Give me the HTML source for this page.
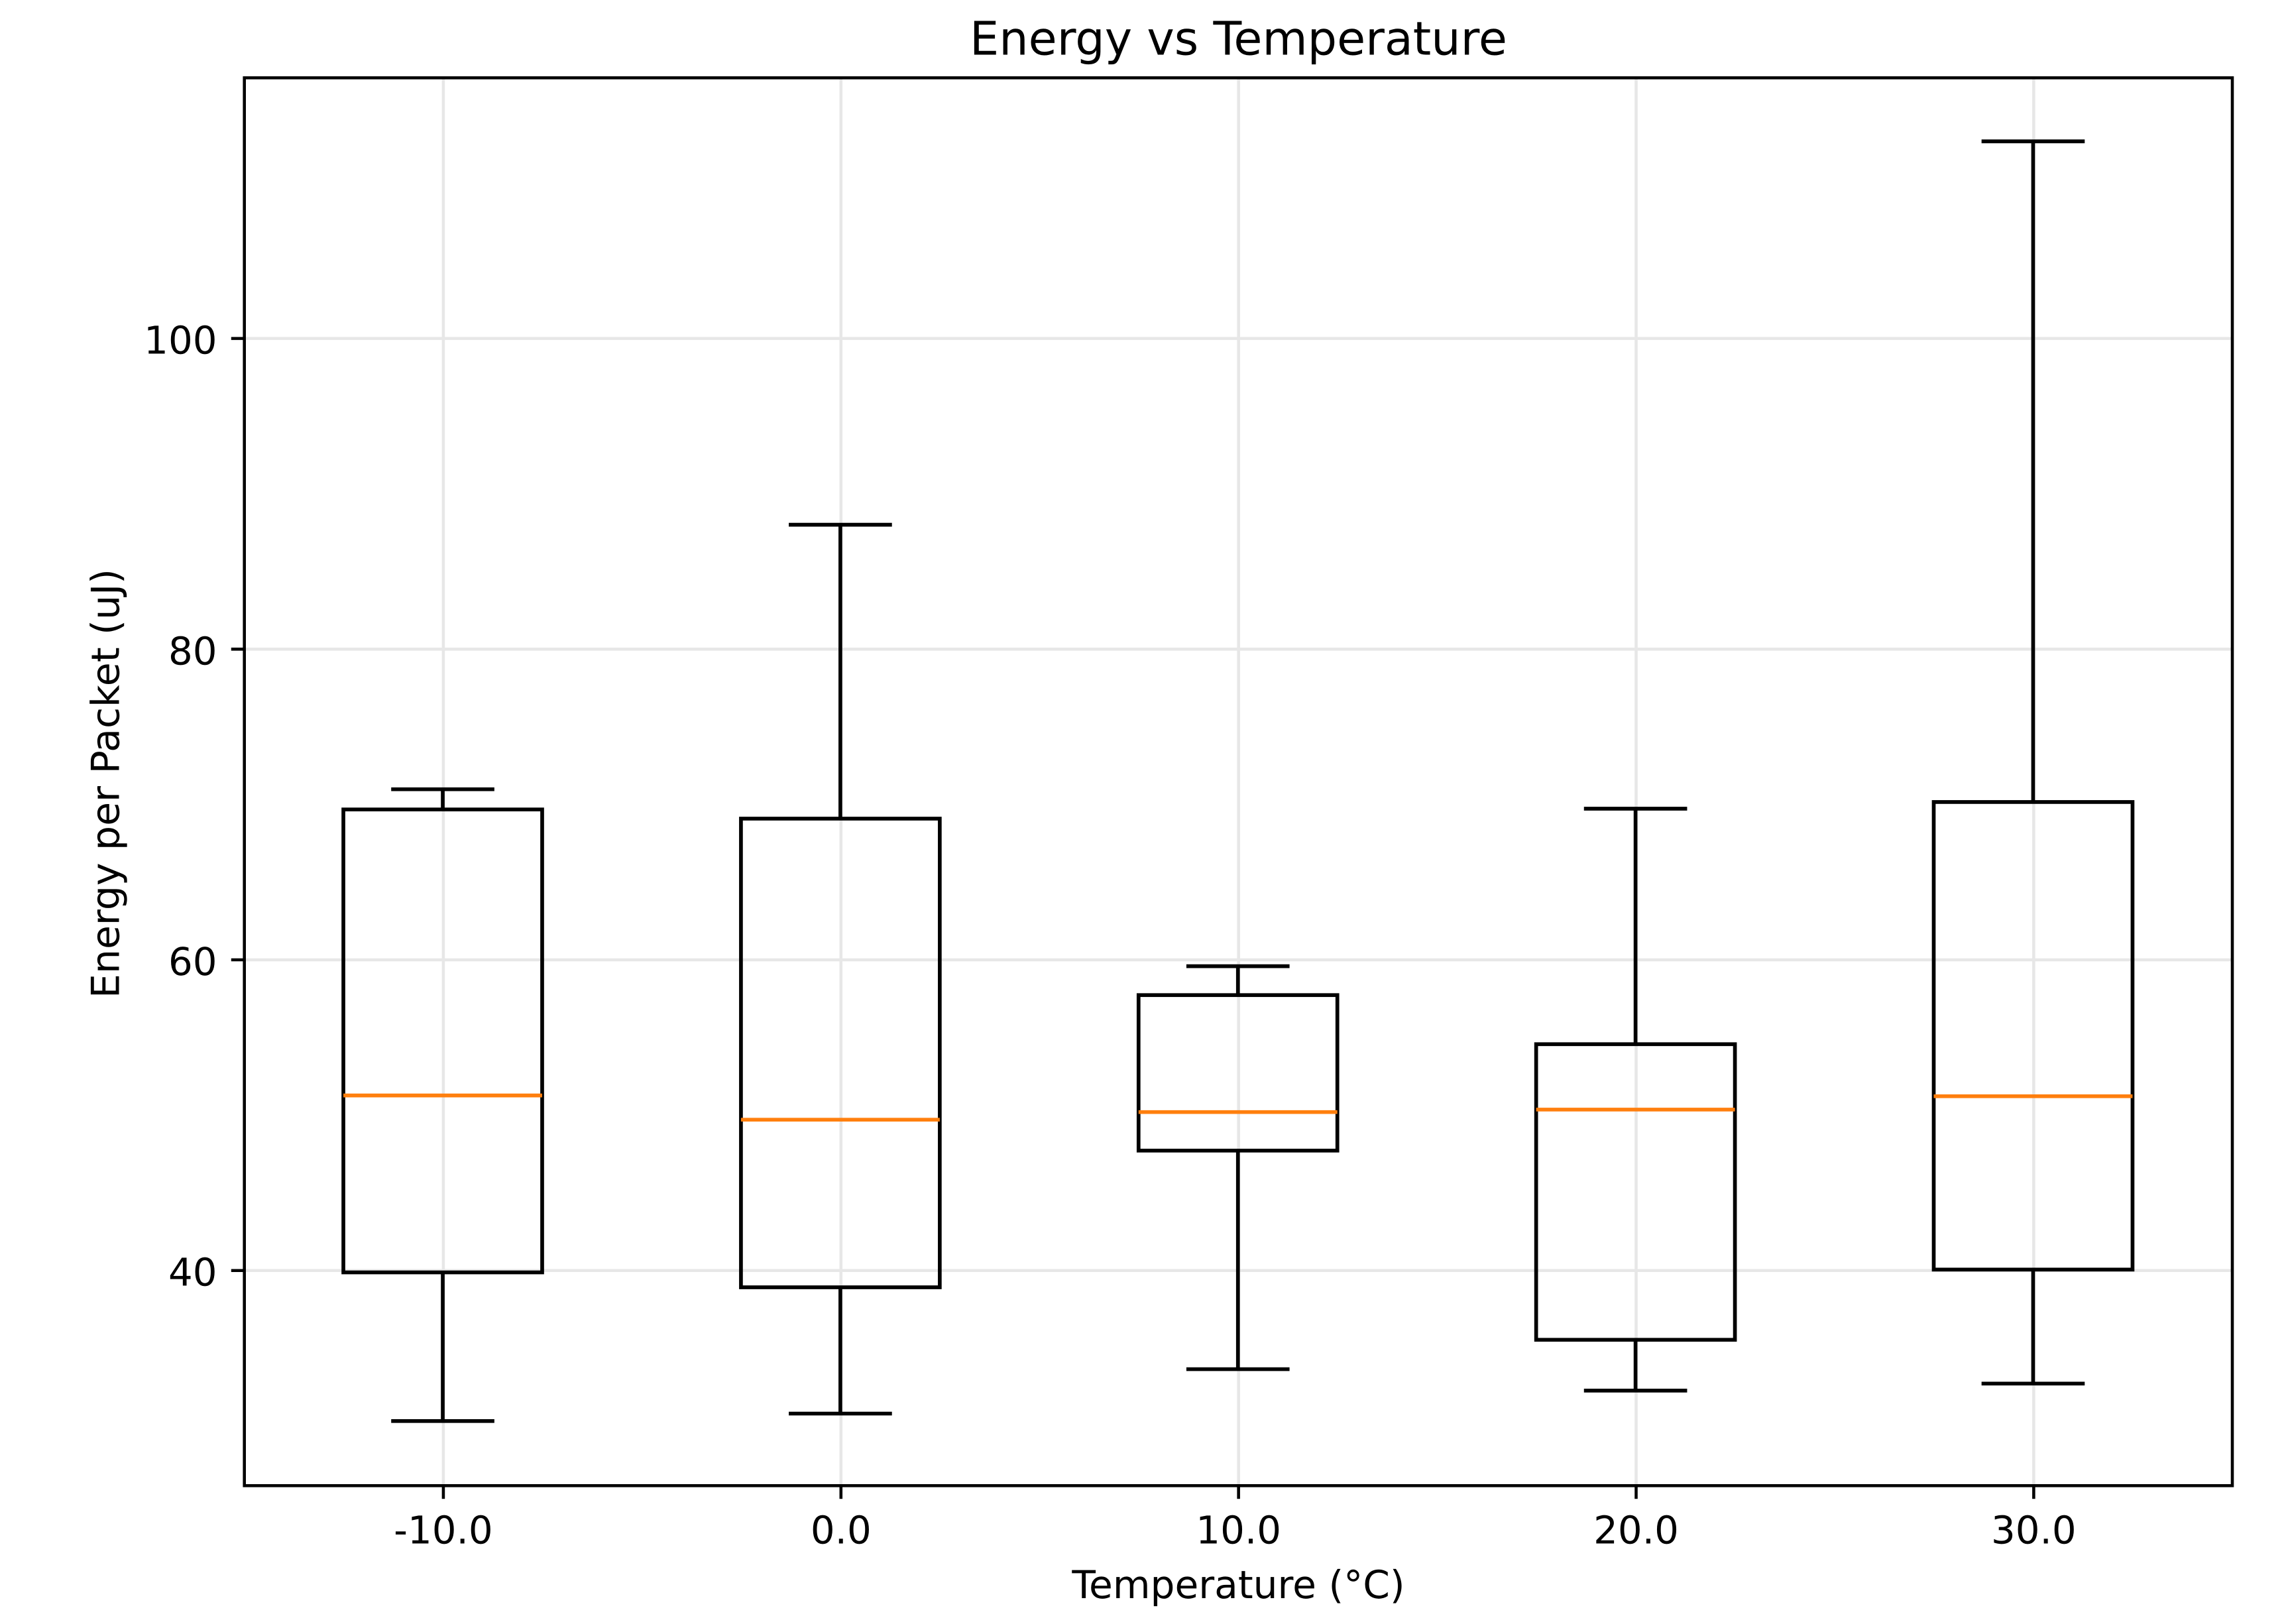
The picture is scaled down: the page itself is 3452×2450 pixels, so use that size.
<!DOCTYPE html>
<html lang="en">
<head>
<meta charset="utf-8">
<title>Energy vs Temperature</title>
<style>
  html, body { margin: 0; padding: 0; background: #fff; width: 3452px; height: 2450px; overflow: hidden; }
  svg { display: block; }
  text { font-family: "DejaVu Sans", "Liberation Sans", sans-serif; fill: #000; text-rendering: geometricPrecision; }
</style>
</head>
<body>
<svg id="chart" xmlns="http://www.w3.org/2000/svg" width="3452" height="2450" viewBox="0 0 3452 2450">
  <rect x="0" y="0" width="3452" height="2450" fill="#ffffff"/>
  <g id="grid"></g>
  <g id="boxes"></g>
  <rect x="368.7" y="117.4" width="2999.3" height="2123.9" fill="none" stroke="#000" stroke-width="4.56"/>
  <g id="x-axis"></g>
  <g id="y-axis"></g>
  <text x="1868.5" y="82.5" font-size="70" text-anchor="middle">Energy vs Temperature</text>
  <text x="1868.5" y="2411" font-size="58.2" text-anchor="middle">Temperature (°C)</text>
  <text x="179.5" y="1182" font-size="58.4" text-anchor="middle" transform="rotate(-90 179.5 1182)">Energy per Packet (uJ)</text>
</svg>
<script>
const categories = ["-10.0", "0.0", "10.0", "20.0", "30.0"];
const whiskerLow = [30.31, 30.79, 33.65, 32.27, 32.72];
const quartile1 = [39.88, 38.92, 47.72, 35.54, 40.06];
const medians = [51.27, 49.71, 50.20, 50.36, 51.22];
const quartile3 = [69.68, 69.09, 57.73, 54.57, 70.16];
const whiskerHigh = [70.98, 88.01, 59.59, 69.73, 112.69];
const yTickValues = [40, 60, 80, 100];

const SVG_NS = "http://www.w3.org/2000/svg";
const PLOT_LEFT = 368.7;
const PLOT_RIGHT = 3368;
const PLOT_TOP = 117.4;
const PLOT_BOTTOM = 2241.3;
const Y_MIN = 26.15;
const Y_MAX = 116.78;
const PT = 5.69;
const TICK_LEN = 3.5 * PT;
const AXIS_LW = 0.8 * PT;
const BOX_LW = 1.0 * PT;
const GRID_COLOR = "#e7e7e7";
const GRID_NUDGE = 0.3;
const MARK_NUDGE = -0.6;
const TICK_FONT = "57.8";

function xScale(index) {
  const slots = categories.length;
  return PLOT_LEFT + (index + 0.5) * (PLOT_RIGHT - PLOT_LEFT) / slots;
}
function yScale(value) {
  return PLOT_BOTTOM - (value - Y_MIN) * (PLOT_BOTTOM - PLOT_TOP) / (Y_MAX - Y_MIN);
}
function slotWidth() {
  return (PLOT_RIGHT - PLOT_LEFT) / categories.length;
}
function drawLine(parent, x1, y1, x2, y2, color, width, cap) {
  const el = document.createElementNS(SVG_NS, "line");
  el.setAttribute("x1", x1);
  el.setAttribute("y1", y1);
  el.setAttribute("x2", x2);
  el.setAttribute("y2", y2);
  el.setAttribute("stroke", color);
  el.setAttribute("stroke-width", width);
  el.setAttribute("stroke-linecap", cap || "butt");
  parent.appendChild(el);
  return el;
}
function drawText(parent, x, y, content, anchor) {
  const el = document.createElementNS(SVG_NS, "text");
  el.setAttribute("x", x);
  el.setAttribute("y", y);
  el.setAttribute("font-size", TICK_FONT);
  el.setAttribute("text-anchor", anchor);
  el.textContent = content;
  parent.appendChild(el);
  return el;
}

const gridLayer = document.getElementById("grid");
const boxLayer = document.getElementById("boxes");
const xAxisLayer = document.getElementById("x-axis");
const yAxisLayer = document.getElementById("y-axis");

categories.forEach(function (label, i) {
  const x = xScale(i) + GRID_NUDGE;

  const grid = drawLine(gridLayer, x, PLOT_TOP, x, PLOT_BOTTOM, GRID_COLOR, AXIS_LW);
  
  

  const tick = drawLine(xAxisLayer, x, PLOT_BOTTOM, x, PLOT_BOTTOM + TICK_LEN, "#000", AXIS_LW);
  
  

  const tickLabel = drawText(xAxisLayer, x, 2328.3, label, "middle");
  
  
});

yTickValues.forEach(function (value) {
  const y = yScale(value);

  const grid = drawLine(gridLayer, PLOT_LEFT, y, PLOT_RIGHT, y, GRID_COLOR, AXIS_LW);
  
  

  const tick = drawLine(yAxisLayer, PLOT_LEFT - TICK_LEN, y, PLOT_LEFT, y, "#000", AXIS_LW);
  
  

  const tickLabel = drawText(yAxisLayer, 327.5, y + 23, String(value), "end");
  
  
});

categories.forEach(function (label, i) {
  const x = xScale(i) + MARK_NUDGE;
  const boxHalf = slotWidth() * 0.25;
  const capHalf = slotWidth() * 0.125;

  const group = document.createElementNS(SVG_NS, "g");
  
  
  boxLayer.appendChild(group);

  const lowerWhisker = drawLine(group, x, yScale(quartile1[i]), x, yScale(whiskerLow[i]), "#000", BOX_LW);
  
  

  const upperWhisker = drawLine(group, x, yScale(quartile3[i]), x, yScale(whiskerHigh[i]), "#000", BOX_LW);
  
  

  const lowerCap = drawLine(group, x - capHalf, yScale(whiskerLow[i]), x + capHalf, yScale(whiskerLow[i]), "#000", BOX_LW, "square");
  
  

  const upperCap = drawLine(group, x - capHalf, yScale(whiskerHigh[i]), x + capHalf, yScale(whiskerHigh[i]), "#000", BOX_LW, "square");
  
  

  const box = document.createElementNS(SVG_NS, "rect");
  box.setAttribute("x", x - boxHalf);
  box.setAttribute("y", yScale(quartile3[i]));
  box.setAttribute("width", boxHalf * 2);
  box.setAttribute("height", yScale(quartile1[i]) - yScale(quartile3[i]));
  box.setAttribute("fill", "none");
  box.setAttribute("stroke", "#000");
  box.setAttribute("stroke-width", BOX_LW);
  
  
  group.appendChild(box);

  const median = drawLine(group, x - boxHalf, yScale(medians[i]), x + boxHalf, yScale(medians[i]), "#ff7f0e", BOX_LW);
  
  
});
</script>
</body>
</html>
